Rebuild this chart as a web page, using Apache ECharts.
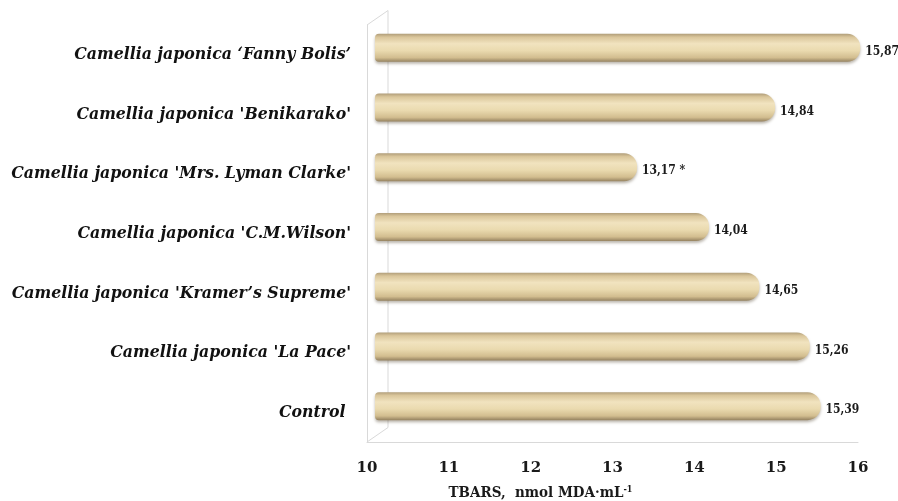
<!DOCTYPE html>
<html>
<head>
<meta charset="utf-8">
<script src="https://cdn.jsdelivr.net/npm/echarts@6/dist/echarts.min.js"></script>
<style>
  html, body { margin: 0; padding: 0; background: #ffffff; }
  #chart { width: 898px; height: 501px; }
</style>
</head>
<body>
<div id="chart"></div>
<script>
// Cultivars, listed top to bottom
const categories = [
  "Camellia japonica \u2018Fanny Bolis\u2019",
  "Camellia japonica 'Benikarako'",
  "Camellia japonica 'Mrs. Lyman Clarke'",
  "Camellia japonica 'C.M.Wilson'",
  "Camellia japonica 'Kramer\u2019s Supreme'",
  "Camellia japonica 'La Pace'",
  "Control\u00a0"
];
// TBARS, nmol MDA per mL
const tbarsValues = [15.87, 14.84, 13.17, 14.04, 14.65, 15.26, 15.39];
// significance markers shown after the value
const significance = ["", "", "*", "", "", "", ""];
const axisTicks = [10, 11, 12, 13, 14, 15, 16];

const axisMin = axisTicks[0];
const axisMax = axisTicks[axisTicks.length - 1];

const chart = echarts.init(document.getElementById('chart'));

// front plane of the 3D frame (axes, labels) and the bars' mid-depth plane
const front = { left: 367, right: 40, top: 25, bottom: 59 };
const bars  = { left: 375, right: 27, top: 18, bottom: 65 };
const depth = { dx: 21, dy: -14.5 };

const serif = "'DejaVu Serif', 'Liberation Serif', serif";
const serifCond = "'DejaVu Serif Condensed', 'DejaVu Serif', serif";

const barGradient = new echarts.graphic.LinearGradient(0, 0, 0, 1, [
  { offset: 0.00, color: '#b19e7a' },
  { offset: 0.12, color: '#dac69b' },
  { offset: 0.35, color: '#f1e3bf' },
  { offset: 0.60, color: '#eadaaf' },
  { offset: 0.85, color: '#d2bd8f' },
  { offset: 1.00, color: '#958260' }
]);

chart.setOption({
  animation: false,
  backgroundColor: '#ffffff',
  grid: [
    { left: bars.left, right: bars.right, top: bars.top, bottom: bars.bottom, outerBoundsMode: 'none' },
    { left: front.left, right: front.right, top: front.top, bottom: front.bottom, outerBoundsMode: 'none' }
  ],
  xAxis: [
    { gridIndex: 0, type: 'value', min: axisMin, max: axisMax, interval: 1, show: false },
    {
      gridIndex: 1, type: 'value', min: axisMin, max: axisMax, interval: 1,
      axisLine: { show: true, lineStyle: { color: '#d9d9d9', width: 1 } },
      axisTick: { show: false },
      splitLine: { show: false },
      axisLabel: {
        margin: 19,
        fontFamily: serif, fontWeight: 'bold', fontSize: 15, color: '#1a1a1a'
      },
      name: '{t|TBARS,  nmol MDA\u00b7mL}{s|-1}',
      nameLocation: 'middle',
      nameGap: 43,
      nameTextStyle: {
        padding: [0, 144, 0, 0],
        rich: {
          t: { fontFamily: serifCond, fontWeight: 'bold', fontSize: 15, color: '#1a1a1a' },
          s: { fontFamily: serifCond, fontWeight: 'bold', fontSize: 9, color: '#1a1a1a', verticalAlign: 'top', padding: [0, 0, 8, 0] }
        }
      }
    }
  ],
  yAxis: [
    { gridIndex: 0, type: 'category', data: categories, inverse: true, show: false },
    {
      gridIndex: 1, type: 'category', data: categories, inverse: true,
      axisLine: { show: true, lineStyle: { color: '#d9d9d9', width: 1 } },
      axisTick: { show: false },
      axisLabel: {
        margin: 16,
        padding: [7, 0, 0, 0],
        fontFamily: serifCond, fontWeight: 'bold', fontStyle: 'italic', fontSize: 17.5, color: '#111111'
      }
    }
  ],
  series: [
    {
      type: 'bar',
      xAxisIndex: 0, yAxisIndex: 0,
      data: tbarsValues,
      barWidth: 28,
      itemStyle: {
        color: barGradient,
        borderRadius: [4, 13, 13, 4],
        shadowColor: 'rgba(60, 45, 20, 0.35)',
        shadowBlur: 3,
        shadowOffsetY: 2
      },
      label: {
        show: true,
        position: 'right',
        distance: 5,
        offset: [0, 4],
        fontFamily: serifCond, fontWeight: 'bold', fontSize: 12, color: '#1a1a1a',
        formatter: p => {
          const txt = p.value.toFixed(2).replace('.', ',');
          const mark = significance[p.dataIndex];
          return mark ? txt + ' ' + mark : txt;
        }
      }
    },
    // empty series to bind the front-plane axes
    { type: 'bar', xAxisIndex: 1, yAxisIndex: 1, data: [], silent: true }
  ]
});

// back edges of the 3D frame, derived from the front-plane grid
function drawFrame() {
  const rect = chart.getModel().getComponent('grid', 1).coordinateSystem.getRect();
  const x0 = rect.x, y0 = rect.y, y1 = rect.y + rect.height;
  const bx = x0 + depth.dx;
  chart.setOption({
    graphic: [
      { type: 'polyline', silent: true, z: -1,
        shape: { points: [[x0, y0], [bx, y0 + depth.dy], [bx, y1 + depth.dy], [x0, y1]] },
        style: { fill: null, stroke: '#d9d9d9', lineWidth: 1 } }
    ]
  });
}
drawFrame();
</script>
</body>
</html>
